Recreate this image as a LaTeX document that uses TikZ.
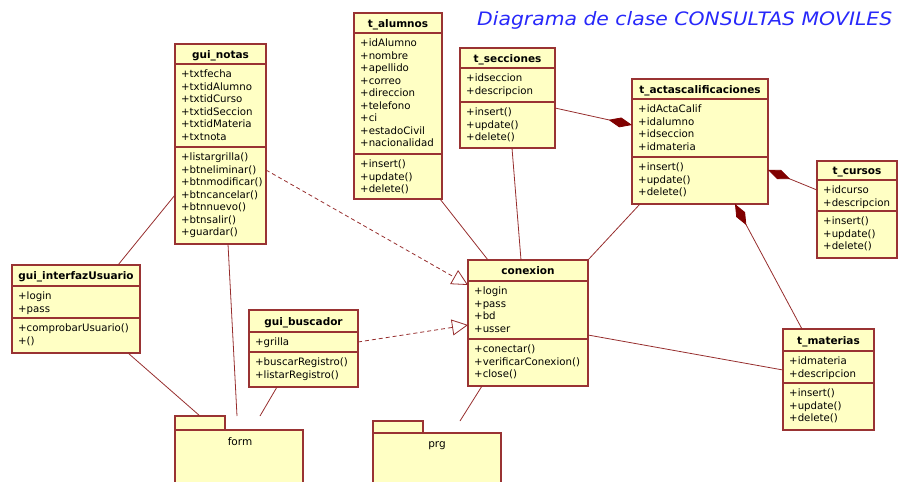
\documentclass[tikz,border=0pt]{standalone}
\usepackage{fontspec}
\usepackage{graphicx}
\setmainfont{DejaVu Sans}
\usetikzlibrary{arrows.meta,fit,calc}
\definecolor{umlborder}{RGB}{153,51,51}
\definecolor{umlfill}{RGB}{255,255,196}
\definecolor{umlline}{RGB}{150,45,45}
\definecolor{umldiamond}{RGB}{128,0,0}
\definecolor{titleblue}{RGB}{40,40,250}
\tikzset{
  classbox/.style={draw=umlborder, fill=umlfill, line width=1.1pt, inner sep=0pt, outer sep=0pt},
  boxline/.style={draw=umlborder, line width=1.1pt},
  classtitle/.style={font=\fontsize{10.5}{12}\selectfont\bfseries, text height=8pt, text depth=0pt, inner sep=0pt},
  members/.style={anchor=north west, inner sep=0pt, align=left, font=\fontsize{10.2}{12.5}\selectfont},
  conn/.style={draw=umlline, line width=0.8pt},
  dep/.style={conn, dash pattern=on 4pt off 3pt, -{Triangle[length=16pt,width=16pt,fill=white]}},
  comp/.style={conn, -{Diamond[length=24pt,width=10pt,fill=umldiamond,color=umldiamond]}},
  pkg/.style={draw=umlborder, fill=umlfill, line width=1.1pt, inner sep=0pt, outer sep=0pt},
  pkglabel/.style={anchor=base, inner sep=0pt, font=\fontsize{10.5}{12}\selectfont},
}
\newcommand\umlclass[8]{%
  \node[classbox, fit={#2 #3}] (#1) {};
  \draw[boxline] (#1.west |- 0,#4) -- (#1.east |- 0,#4);
  \draw[boxline] (#1.west |- 0,#5) -- (#1.east |- 0,#5);
  \path (#1.north) -- (#1.north |- 0,#4) node[midway, classtitle] (#1-title) {#6};
  \path (#1.west |- 0,#4) ++(6,5.5) coordinate (#1-pa);
  \path (#1.west |- 0,#5) ++(6,5.5) coordinate (#1-po);
  \node[members] (#1-attrs) at (#1-pa) {\rule{0pt}{8pt}#7};
  \node[members] (#1-ops) at (#1-po) {\rule{0pt}{8pt}#8};
}
\begin{document}
\begin{tikzpicture}[x=1pt, y=-1pt]
\useasboundingbox (0,0) rectangle (898,482);
\clip (0,0) rectangle (898,482);

% title
\node[anchor=base west, inner sep=0pt, text=titleblue] (title) at (477,25)
  {\resizebox{415pt}{\height}{\fontsize{18.5}{20}\selectfont\itshape Diagrama de clase CONSULTAS MOVILES}};

% packages
\node[pkg, fit={(175,416)(225,430)}] (formtab) {};
\node[pkg, fit={(175,430)(303,490)}] (form) {};
\node[pkglabel] (formlabel) at (240,445) {form};
\node[pkg, fit={(373,421)(423,433)}] (prgtab) {};
\node[pkg, fit={(373,433)(501,490)}] (prg) {};
\node[pkglabel] (prglabel) at (437,447) {prg};

% classes
\umlclass{notas}{(175,44)}{(266,244)}{64}{147}{gui\_notas}
  {+txtfecha\\+txtidAlumno\\+txtidCurso\\+txtidSeccion\\+txtidMateria\\+txtnota}
  {+listargrilla()\\+btneliminar()\\+btnmodificar()\\+btncancelar()\\+btnnuevo()\\+btnsalir()\\+guardar()}
\umlclass{alumnos}{(354,13)}{(442,199)}{33}{154}{t\_alumnos}
  {+idAlumno\\+nombre\\+apellido\\+correo\\+direccion\\+telefono\\+ci\\+estadoCivil\\+nacionalidad}
  {+insert()\\+update()\\+delete()}
\umlclass{secciones}{(460,48)}{(555,148)}{68}{102}{t\_secciones}
  {+idseccion\\+descripcion}
  {+insert()\\+update()\\+delete()}
\umlclass{actas}{(632,79)}{(768,204)}{99}{157}{t\_actascalificaciones}
  {+idActaCalif\\+idalumno\\+idseccion\\+idmateria}
  {+insert()\\+update()\\+delete()}
\umlclass{cursos}{(817,161)}{(897,258)}{180}{211}{t\_cursos}
  {+idcurso\\+descripcion}
  {+insert()\\+update()\\+delete()}
\umlclass{interfaz}{(12,265)}{(140,353)}{286}{318}{gui\_interfazUsuario}
  {+login\\+pass}
  {+comprobarUsuario()\\+()}
\umlclass{buscador}{(249,310)}{(358,387)}{332}{352}{gui\_buscador}
  {+grilla}
  {+buscarRegistro()\\+listarRegistro()}
\umlclass{conexion}{(468,260)}{(588,386)}{281}{339}{conexion}
  {+login\\+pass\\+bd\\+usser}
  {+conectar()\\+verificarConexion()\\+close()}
\umlclass{materias}{(783,329)}{(874,430)}{351}{383}{t\_materias}
  {+idmateria\\+descripcion}
  {+insert()\\+update()\\+delete()}

% connectors
\draw[conn] (notas.west |- 0,195) -- (118,0 |- interfaz.north);
\draw[conn] (228,0 |- notas.south) -- (237,0 |- formtab.north);
\draw[conn] (128,0 |- interfaz.south) -- (200,0 |- formtab.north);
\draw[conn] (277,0 |- buscador.south) -- (260,0 |- formtab.north);
\draw[dep] (notas.east |- 0,170) -- (conexion.west |- 0,285);
\draw[dep] (buscador.east |- 0,342) -- (conexion.west |- 0,325);
\draw[conn] (440,0 |- alumnos.south) -- (488,0 |- conexion.north);
\draw[conn] (512,0 |- secciones.south) -- (521,0 |- conexion.north);
\draw[conn] (640,0 |- actas.south) -- (conexion.north east);
\draw[comp] (secciones.east |- 0,108) -- (actas.west |- 0,125);
\draw[comp] (cursos.west |- 0,190) -- (actas.east |- 0,170);
\draw[comp] (802,0 |- materias.north) -- (735,0 |- actas.south);
\draw[conn] (conexion.east |- 0,335) -- (materias.west |- 0,370);
\draw[conn] (482,0 |- conexion.south) -- (460,0 |- prgtab.north);
\end{tikzpicture}
\end{document}
